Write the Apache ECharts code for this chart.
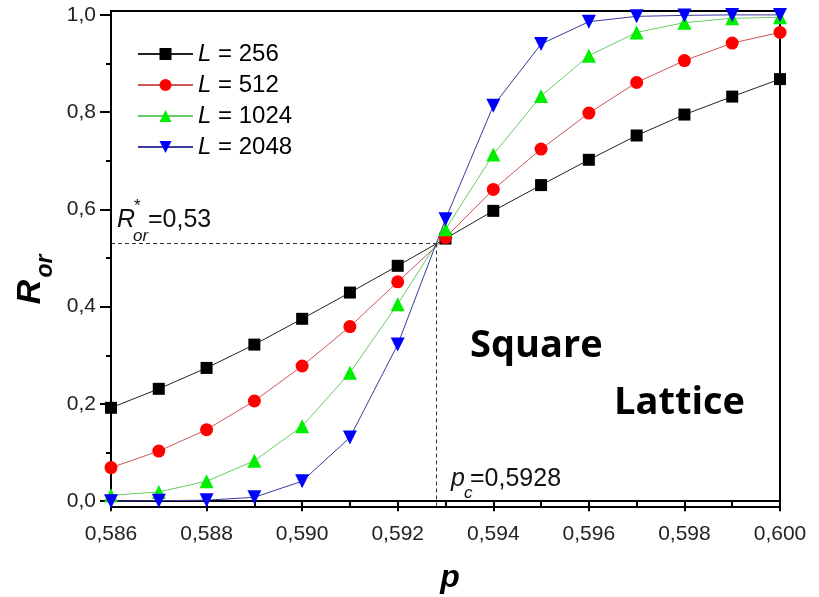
<!DOCTYPE html>
<html>
<head>
<meta charset="utf-8">
<script src="https://cdn.jsdelivr.net/npm/echarts@6/dist/echarts.min.js"></script>
<style>
  html, body { margin: 0; padding: 0; background: #fff; }
  #chart { width: 819px; height: 597px; }
</style>
</head>
<body>
<div id="chart"></div>
<script>
// occupation probability p
var pValues = [0.586, 0.587, 0.588, 0.589, 0.590, 0.591, 0.592, 0.593,
               0.594, 0.595, 0.596, 0.597, 0.598, 0.599, 0.600];
// R_or for each lattice size
var r256  = [0.192, 0.231, 0.274, 0.322, 0.375, 0.429, 0.484, 0.540, 0.597, 0.650, 0.702, 0.752, 0.795, 0.832, 0.868];
var r512  = [0.069, 0.103, 0.147, 0.206, 0.278, 0.359, 0.451, 0.542, 0.641, 0.724, 0.798, 0.861, 0.906, 0.942, 0.964];
var r1024 = [0.012, 0.019, 0.041, 0.083, 0.154, 0.264, 0.405, 0.559, 0.713, 0.833, 0.916, 0.964, 0.984, 0.993, 0.995];
var r2048 = [0.000, 0.001, 0.002, 0.008, 0.041, 0.131, 0.322, 0.580, 0.813, 0.940, 0.986, 0.997, 0.999, 1.000, 1.000];
var seriesNames = ['L = 256', 'L = 512', 'L = 1024', 'L = 2048'];

// ticks
var xTicks = [0.586, 0.588, 0.590, 0.592, 0.594, 0.596, 0.598, 0.600];
var xMinor = [0.587, 0.589, 0.591, 0.593, 0.595, 0.597, 0.599];
var yTicks = [0, 0.2, 0.4, 0.6, 0.8, 1.0];
var yMinor = [0.1, 0.3, 0.5, 0.7, 0.9];

// critical point
var pc = 0.5928;
var rStar = 0.53;

var FONT = 'Liberation Sans';

function pairs(ys) {
    return pValues.map(function (p, i) { return [p, ys[i]]; });
}
function comma(v, d) {
    return v.toFixed(d).replace('.', ',');
}

var chart = echarts.init(document.getElementById('chart'));

var xRange = { min: 0.586, max: 0.600 };
var yRange = { min: -0.012, max: 1.008 };

var option = {
    animation: false,
    backgroundColor: '#fff',
    grid: {
        left: 111, right: 39, top: 11, bottom: 90,
        show: true, borderColor: '#000', borderWidth: 2
    },
    legend: {
        orient: 'vertical',
        left: 137, top: 42,
        padding: 0,
        itemWidth: 55, itemHeight: 15, itemGap: 7,
        data: seriesNames,
        formatter: function (name) { return '{i|L}' + name.slice(1); },
        textStyle: {
            fontFamily: FONT, fontSize: 24, color: '#000',
            rich: { i: { fontFamily: FONT, fontSize: 24, fontStyle: 'italic', color: '#000' } }
        }
    },
    xAxis: [{
        type: 'value', min: xRange.min, max: xRange.max,
        axisLine: { lineStyle: { color: '#000', width: 2 } },
        axisTick: { show: true, inside: false, length: 10, customValues: xTicks,
                    lineStyle: { color: '#000', width: 2 } },
        axisLabel: { customValues: xTicks, margin: 17, fontFamily: FONT, fontSize: 21, color: '#222',
                     formatter: function (v) { return comma(v, 3); } },
        splitLine: { show: false }
    }, {
        type: 'value', min: xRange.min, max: xRange.max, position: 'bottom',
        axisLine: { show: false },
        axisTick: { show: true, length: 5, customValues: xMinor,
                    lineStyle: { color: '#000', width: 2 } },
        axisLabel: { show: false },
        splitLine: { show: false }
    }],
    yAxis: [{
        type: 'value', min: yRange.min, max: yRange.max,
        axisLine: { show: true, lineStyle: { color: '#000', width: 2 } },
        axisTick: { show: true, length: 11, customValues: yTicks,
                    lineStyle: { color: '#000', width: 2 } },
        axisLabel: { customValues: yTicks, margin: 15, fontFamily: FONT, fontSize: 21, color: '#222',
                     formatter: function (v) { return comma(v, 1); } },
        splitLine: { show: false }
    }, {
        type: 'value', min: yRange.min, max: yRange.max, position: 'left',
        axisLine: { show: false },
        axisTick: { show: true, length: 5, customValues: yMinor,
                    lineStyle: { color: '#000', width: 2 } },
        axisLabel: { show: false },
        splitLine: { show: false }
    }],
    series: [{
        name: seriesNames[0], type: 'line', data: pairs(r256),
        symbol: 'rect', symbolSize: 12,
        itemStyle: { color: '#000' },
        lineStyle: { color: '#222', width: 1 },
        markLine: {
            silent: true, symbol: 'none',
            label: { show: false },
            lineStyle: { color: '#333', width: 1, type: [4, 3] },
            data: [
                [{ coord: [xRange.min, rStar] }, { coord: [pc, rStar] }],
                [{ coord: [pc, rStar] }, { coord: [pc, yRange.min] }]
            ]
        }
    }, {
        name: seriesNames[1], type: 'line', data: pairs(r512),
        symbol: 'circle', symbolSize: 13,
        itemStyle: { color: '#ff0000' },
        lineStyle: { color: '#d05555', width: 1 }
    }, {
        name: seriesNames[2], type: 'line', data: pairs(r1024),
        symbol: 'triangle', symbolSize: 14,
        itemStyle: { color: '#00ee00' },
        lineStyle: { color: '#66cc66', width: 1 }
    }, {
        name: seriesNames[3], type: 'line', data: pairs(r2048),
        symbol: 'triangle', symbolRotate: 180, symbolSize: 14,
        itemStyle: { color: '#0000ff' },
        lineStyle: { color: '#3a3aa0', width: 1 }
    }],
    graphic: [
        // y axis title R_or
        { type: 'group', x: 31, y: 292, rotation: Math.PI / 2, children: [
            { type: 'text', x: 0, y: 0, style: { text: 'R', fontFamily: FONT, fontSize: 34,
              fontWeight: 'bold', fontStyle: 'italic', fill: '#000', align: 'center', verticalAlign: 'middle' } },
            { type: 'text', x: 26, y: 15, style: { text: 'or', fontFamily: FONT, fontSize: 23,
              fontWeight: 'bold', fontStyle: 'italic', fill: '#000', align: 'center', verticalAlign: 'middle' } }
        ] },
        // x axis title
        { type: 'text', x: 450, y: 578, style: { text: 'p', fontFamily: FONT, fontSize: 32,
          fontWeight: 'bold', fontStyle: 'italic', fill: '#000', align: 'center', verticalAlign: 'middle' } },
        // R*_or = 0,53
        { type: 'text', x: 117, y: 220, style: { text: 'R', fontFamily: FONT, fontSize: 25,
          fontStyle: 'italic', fill: '#111', align: 'left', verticalAlign: 'middle' } },
        { type: 'text', x: 134, y: 206, style: { text: '*', fontFamily: FONT, fontSize: 17,
          fill: '#111', align: 'left', verticalAlign: 'middle' } },
        { type: 'text', x: 133, y: 236, style: { text: 'or', fontFamily: FONT, fontSize: 17,
          fontStyle: 'italic', fill: '#111', align: 'left', verticalAlign: 'middle' } },
        { type: 'text', x: 148, y: 220, style: { text: '=' + comma(rStar, 2), fontFamily: FONT, fontSize: 25,
          fill: '#111', align: 'left', verticalAlign: 'middle' } },
        // p_c = 0,5928
        { type: 'text', x: 451, y: 479, style: { text: 'p', fontFamily: FONT, fontSize: 25,
          fontStyle: 'italic', fill: '#111', align: 'left', verticalAlign: 'middle' } },
        { type: 'text', x: 464, y: 493, style: { text: 'c', fontFamily: FONT, fontSize: 17,
          fontStyle: 'italic', fill: '#111', align: 'left', verticalAlign: 'middle' } },
        { type: 'text', x: 470, y: 479, style: { text: '=' + comma(pc, 4), fontFamily: FONT, fontSize: 25,
          fill: '#111', align: 'left', verticalAlign: 'middle' } },
        // lattice label
        { type: 'text', x: 470, y: 346, style: { text: 'Square', fontFamily: 'Open Sans', fontSize: 38,
          fontWeight: 'bold', fill: '#000', align: 'left', verticalAlign: 'middle' } },
        { type: 'text', x: 614, y: 403, style: { text: 'Lattice', fontFamily: 'Open Sans', fontSize: 38,
          fontWeight: 'bold', fill: '#000', align: 'left', verticalAlign: 'middle' } }
    ]
};

chart.setOption(option);
window.addEventListener('resize', function () {
    chart.resize();
});
</script>
</body>
</html>
